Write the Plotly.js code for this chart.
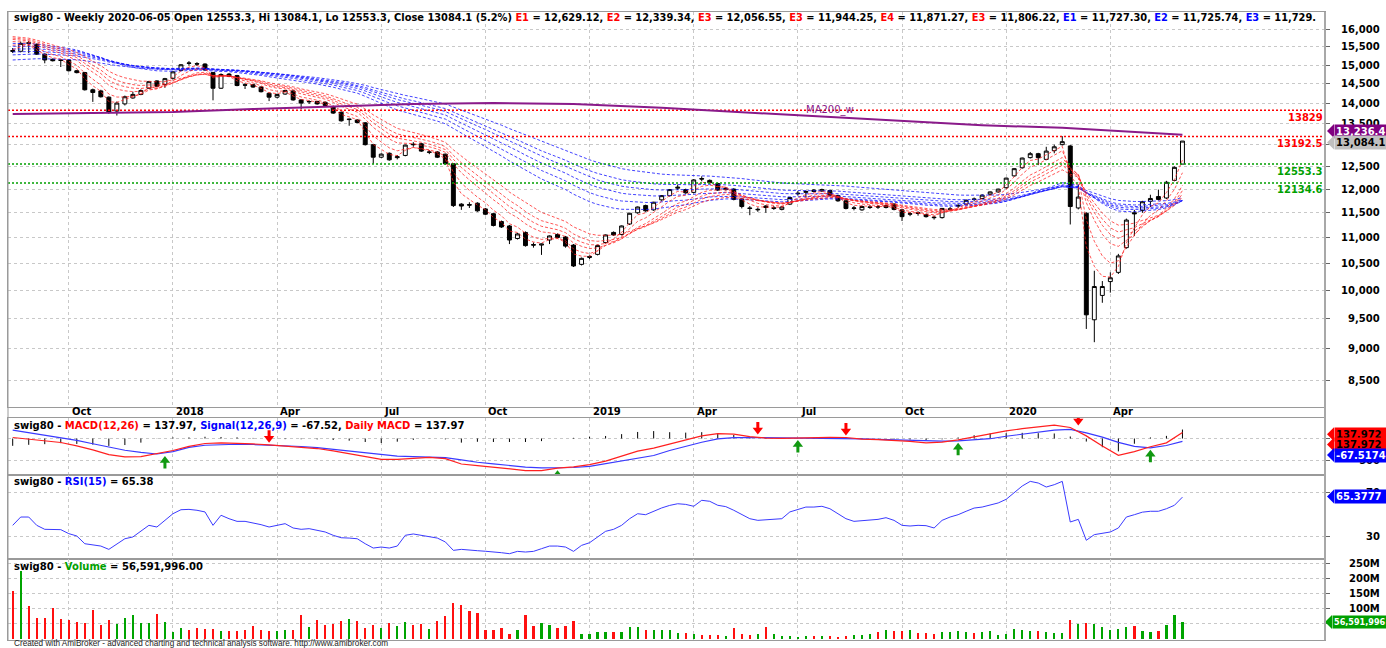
<!DOCTYPE html>
<html><head><meta charset="utf-8">
<script src="https://cdn.plot.ly/plotly-3.0.1.min.js"></script>
<style>html,body{margin:0;padding:0;background:#fff}#chart{width:1386px;height:648px}</style>
</head><body><div id="chart"></div>
<script>
// ---------------- DATA ----------------
const monthIdx = [7, 20, 33, 46, 59, 72, 85, 98, 111, 124, 137];
const monthLabels = ['Oct', '2018', 'Apr', 'Jul', 'Oct', '2019', 'Apr', 'Jul', 'Oct', '2020', 'Apr'];

const openP = [15400,15380,15620,15570,15300,15160,15140,15140,14850,14800,14350,14320,14160,13810,13990,14140,14230,14390,14580,14490,
14650,14860,15060,15040,15030,14800,14390,14760,14720,14480,14480,14420,14260,14160,14240,14320,14090,14040,14050,14030,
13920,13780,13600,13590,13520,13000,12710,12800,12700,12750,13010,13020,12820,12830,12780,12560,11680,11670,11700,11580,
11480,11320,11230,10980,11100,10860,10850,10950,11060,11010,10850,10480,10610,10670,10900,11100,11060,11270,11500,11650,
11560,11770,11860,12020,11990,11930,12230,12190,12120,11990,12000,11790,11600,11560,11640,11590,11570,11680,11900,11930,
11980,11960,11970,11860,11750,11590,11560,11610,11630,11610,11680,11560,11470,11500,11460,11410,11400,11570,11640,11680,
11790,11800,11890,11940,12030,12290,12470,12700,12790,12660,12860,13000,12970,11600,11490,9485,9910,10160,10330,10800,
11500,11550,11740,11840,11810,12190,12553.3];
const highP = [15470,15650,15670,15600,15320,15180,15160,15160,14870,14820,14380,14350,14180,14050,14200,14300,14360,14580,14600,14660,
14840,15030,15110,15080,15050,14820,14780,14790,14740,14520,14500,14440,14280,14250,14350,14340,14110,14080,14070,14050,
13940,13800,13620,13610,13540,13020,12800,12820,12760,13000,13060,13040,12870,12850,12790,12570,11700,11720,11720,11600,
11500,11340,11250,11090,11120,10900,10880,11040,11080,11030,10870,10610,10650,10860,11060,11120,11240,11500,11630,11670,
11730,11870,12000,12100,12010,12220,12280,12210,12140,12040,12020,11810,11640,11610,11660,11640,11640,11830,11960,11970,
12000,12010,11990,11880,11770,11640,11650,11660,11660,11670,11700,11580,11520,11530,11480,11440,11600,11620,11690,11780,
11820,11890,11950,12010,12250,12460,12700,12830,12810,12950,13000,13200,12990,12100,11510,10360,10170,10330,10680,11380,
11560,11750,11880,11990,12180,12500,13084.1];
const lowP = [15330,15350,15330,15280,15050,15100,14950,14830,14780,14330,14040,14150,13740,13700,13950,14120,14210,14370,14420,14400,
14620,14840,14990,14980,14850,14080,14370,14680,14440,14370,14400,14280,14060,14130,14220,14070,13860,13990,13970,13930,
13740,13550,13450,13510,12980,12560,12690,12630,12660,12730,12950,12830,12780,12690,12540,11620,11560,11600,11520,11450,
11220,11190,10870,10960,10820,10800,10660,10870,10980,10800,10430,10460,10580,10650,10880,11030,11040,11250,11480,11520,
11540,11750,11840,11980,11900,11910,12170,12120,11960,11970,11760,11590,11450,11520,11500,11560,11550,11660,11860,11820,
11930,11940,11850,11730,11570,11550,11540,11580,11580,11590,11550,11330,11430,11440,11400,11360,11380,11540,11600,11660,
11740,11780,11870,11920,12010,12270,12450,12680,12530,12640,12800,12980,11260,11570,9330,9110,9780,9960,10300,10780,
11030,11500,11620,11760,11790,12170,12553.3];
const closeP = [15380,15600,15600,15300,15140,15120,15130,14850,14800,14350,14280,14170,13780,14010,14170,14230,14330,14560,14440,14640,
14820,15010,15050,15030,14870,14390,14750,14700,14460,14470,14420,14300,14160,14230,14330,14090,14010,14050,13990,13950,
13760,13570,13610,13530,13000,12710,12780,12650,12720,12990,13000,12850,12830,12710,12560,11650,11640,11660,11540,11470,
11240,11210,10950,11070,10840,10850,10870,11030,11000,10830,10450,10594,10630,10840,11050,11050,11230,11490,11620,11540,
11720,11860,11990,12040,11920,12200,12220,12140,11980,12020,11780,11630,11590,11570,11610,11600,11620,11820,11910,11950,
11950,11990,11870,11750,11590,11600,11630,11620,11620,11650,11570,11420,11480,11490,11420,11400,11590,11580,11650,11760,
11780,11870,11940,12000,12240,12450,12690,12790,12700,12850,12950,13070,11630,11830,9570,10070,10070,10230,10640,11350,
11480,11730,11800,11780,12150,12480,13084.1];

// weekly volume, millions
const volumeM = [158.9,225.6,108.9,70,70,101,66.7,62.2,55.6,53.3,94.4,46.7,62.2,51.1,67.8,77.8,54.4,52.2,82.2,55.6,
22.2,35.6,30,35.6,32.2,32.2,25.6,25.6,25.6,31.1,44.4,30,25.6,25.6,31.1,31.1,77.8,40,62.2,47.8,
50,58.9,65.6,58.9,37.8,46.7,35.6,54.4,42.2,56.7,45.6,48.9,33.3,58.9,75.6,120,111,92.2,86.7,31.1,
31.1,36.7,15.6,28.9,78.9,42.2,52.2,45.6,37.8,42.2,58.9,17.8,17.8,21.5,22,24,24,39,41,30,
29,30,29,21,19,18,14,12,13,11,36,17,14,17,39,17,10,11,8,10,
10,10,10,8,10,14,13,16,23,30,26,28,31,21,19,17,22,24,26,23,
19,22,28,12,17,32,31,28,28,24,19,19,63,50,54,49,39,30,34,41,
44,26,23,26,46,78,56.591996];

// RSI(15) line
const rsiVal = [39.9,47.4,47.4,39.9,36.3,36.3,36,32.4,30.3,23.3,22.4,21.2,18.2,23.3,27.8,29.4,34.5,39.9,38.4,44.4,
50.4,54,54.3,53.5,52,39.9,49,45.9,43.5,43.5,42.3,40.5,38.4,39.9,41.4,37.5,36.3,36.9,35.4,33.9,
30.9,28.7,28.4,27.8,23.3,19.4,20.3,19.4,21.2,30.9,32.1,30.9,29.4,28.4,24.9,17.3,18.2,17.3,17,16.5,
16,15.2,14.3,16.4,15.8,16.4,18.8,21.2,21.2,20.3,16.4,21.8,24.2,29.4,34.5,36.3,39.9,45.9,50.4,49.5,
52.6,55.6,57.9,59.4,58.8,57.1,62.5,61.6,58,56.8,53.5,49.5,45.9,44.4,45,45,45.9,52,54.4,56.4,
56.4,57.1,54.9,50.4,45.9,43.5,44.1,44.4,45.3,46.8,44.4,39.9,39.3,39.9,39.6,37.5,44.4,47.4,49.5,52.6,
55.5,56.4,58,60.1,63.4,69.4,75.4,79.6,78.1,74.5,76.6,79.6,42.9,45.3,26.4,31.5,32.4,33.9,37.5,47.4,
49.5,51.8,52.6,52.6,54.9,58,65.38];

// MACD(12,26) and Signal(12,26,9), read every second bar
const macdIdx = [0,2,4,6,8,10,12,14,16,18,20,22,24,26,28,30,32,34,36,38,40,42,44,46,48,50,52,54,56,58,60,62,64,66,68,70,72,74,
76,78,80,82,84,86,88,90,92,94,96,98,100,102,104,106,108,110,112,114,116,118,120,122,124,126,128,130,132,134,136,138,140,142,144,146];
const macdVal = [23,-10,-50,-92,-170,-260,-370,-420,-415,-350,-275,-180,-115,-100,-105,-125,-145,-175,-200,-230,-285,-350,-420,-478,-478,
-450,-432,-460,-585,-620,-660,-700,-735,-735,-680,-650,-600,-520,-400,-290,-220,-130,-40,60,112,100,45,10,5,15,30,28,23,-15,
-25,-40,-65,-100,-82,-30,40,110,175,225,262,305,253,60,-170,-385,-300,-190,-100,137.97];
const signalVal = [191,135,80,15,-45,-120,-200,-270,-320,-355,-300,-205,-155,-135,-132,-138,-148,-160,-183,-210,-250,-300,-340,-375,-405,
-418,-428,-440,-490,-545,-580,-620,-655,-675,-677,-665,-640,-578,-500,-440,-390,-275,-175,-85,-10,20,22,18,14,10,12,15,2,-8,
-20,-28,-40,-60,-62,-54,-35,-5,52,95,140,190,207,130,30,-90,-180,-214,-160,-67.52];
const buyIdx = [19, 68, 98, 118, 142];
const sellIdx = [32, 93, 104, 133];

// 200-week moving average (sampled along the purple line)
const ma200Idx = [0,10,20,30,40,50,60,70,81,93,102,112,121,131,140,146];
const ma200Val = [13740,13770,13790,13860,13920,13990,14010,13985,13890,13760,13650,13550,13463,13400,13300,13236.4];

// Guppy multiple moving averages: periods and their values at the first bar
const shortPeriods = [3, 5, 8, 10, 12, 15];
const shortStart = [15420, 15550, 15650, 15710, 15750, 15790];
const longPeriods = [30, 35, 40, 45, 50, 60];
const longStart = [15600, 15520, 15440, 15360, 15280, 15140];

const levelsRed = [13829, 13192.5];
const levelsGreen = [12553.3, 12134.6];
const priceTicks = [8500,9000,9500,10000,10500,11000,11500,12000,12500,13000,13500,14000,14500,15000,15500,16000];
const macdTicks = [-500, 0];
const rsiTicks = [30, 70];
const volTicksM = [50, 100, 150, 200, 250];

// ---------------- BUILD ----------------
const W = 1386, H = 648, ML = 8, MR = 61, PW = W - ML - MR;
const px2x = p => (p - ML) / PW;
const py2y = p => (H - p) / H;
const barPx0 = 12.7, barPx = 8.012;
const xr = [(ML - barPx0) / barPx, (W - MR - barPx0) / barPx];

const idx = closeP.map((_, i) => i);
function ema(src, period, start) {
  const a = 2 / (period + 1); let e = start; const out = [];
  for (let i = 0; i < src.length; i++) { if (i > 0) e = e + a * (src[i] - e); out.push(e); }
  return out;
}

const FONT = 'DejaVu Sans, Verdana, sans-serif';
const FONT2 = 'Liberation Sans, Arial, sans-serif';
const traces = [];
longPeriods.forEach((p, k) => traces.push({type:'scatter', mode:'lines', x: idx, y: ema(closeP, p, longStart[k]),
  line:{color:'rgba(20,20,255,0.8)', width:1, dash:'3px,2px'}, xaxis:'x', yaxis:'y', hoverinfo:'skip'}));
shortPeriods.forEach((p, k) => traces.push({type:'scatter', mode:'lines', x: idx, y: ema(closeP, p, shortStart[k]),
  line:{color:'rgba(255,30,30,0.75)', width:1, dash:'3px,2px'}, xaxis:'x', yaxis:'y', hoverinfo:'skip'}));
levelsRed.forEach(v => traces.push({type:'scatter', mode:'lines', x: xr, y:[v, v], line:{color:'#ff0000', width:1.5, dash:'2px,2px'}, xaxis:'x', yaxis:'y', hoverinfo:'skip'}));
levelsGreen.forEach(v => traces.push({type:'scatter', mode:'lines', x: xr, y:[v, v], line:{color:'#00a000', width:1.5, dash:'2px,2px'}, xaxis:'x', yaxis:'y', hoverinfo:'skip'}));
traces.push({type:'scatter', mode:'lines', x: ma200Idx, y: ma200Val, line:{color:'#8a1a8a', width:2}, xaxis:'x', yaxis:'y', hoverinfo:'skip'});
traces.push({type:'candlestick', x: idx, open: openP, high: highP, low: lowP, close: closeP, xaxis:'x', yaxis:'y',
  increasing:{line:{color:'#000', width:1}, fillcolor:'#ffffff'}, decreasing:{line:{color:'#000', width:1}, fillcolor:'#000000'},
  whiskerwidth:0, hoverinfo:'skip'});

// MACD pane
const hx = [], hy = [];
macdIdx.forEach((i, k) => { hx.push(i, i, null); hy.push(0, macdVal[k] - signalVal[k], null); });
traces.push({type:'scatter', mode:'lines', x: hx, y: hy, line:{color:'#000', width:1}, xaxis:'x2', yaxis:'y2', hoverinfo:'skip'});
traces.push({type:'scatter', mode:'lines', x: macdIdx, y: signalVal, line:{color:'#3a3aff', width:1.2}, xaxis:'x2', yaxis:'y2', hoverinfo:'skip'});
traces.push({type:'scatter', mode:'lines', x: macdIdx, y: macdVal, line:{color:'#ff2020', width:1.2}, xaxis:'x2', yaxis:'y2', hoverinfo:'skip'});

// MACD crossover arrows (shaft + head), clipped to the pane
const MACD_PX = 0.0436;            // pixels per MACD unit
const U = px => px / MACD_PX;      // pixels -> MACD units
const nearest = i => macdIdx.reduce((b, v, k) => Math.abs(v - i) < Math.abs(macdIdx[b] - i) ? k : b, 0);
function arrows(list, dir, color) {
  const sx = [], sy = [], mx = [], my = [];
  list.forEach(i => {
    const k = nearest(i);
    const tip = dir > 0 ? Math.min(macdVal[k], signalVal[k]) - U(2) : Math.max(macdVal[k], signalVal[k]) + U(2);
    mx.push(i); my.push(tip - dir * U(4.5));
    sx.push(i, i, null); sy.push(tip - dir * U(6), tip - dir * U(12.5), null);
  });
  traces.push({type:'scatter', mode:'lines', x: sx, y: sy, line:{color, width:3}, xaxis:'x2', yaxis:'y2', hoverinfo:'skip', cliponaxis:true});
  traces.push({type:'scatter', mode:'markers', x: mx, y: my, marker:{symbol: dir > 0 ? 'triangle-up' : 'triangle-down', size:9, color, line:{width:0}},
    xaxis:'x2', yaxis:'y2', hoverinfo:'skip', cliponaxis:true});
}
arrows(buyIdx, 1, '#119911');
arrows(sellIdx, -1, '#ff0000');

// RSI pane
traces.push({type:'scatter', mode:'lines', x: idx, y: rsiVal, line:{color:'#3a3aff', width:1}, xaxis:'x3', yaxis:'y3', hoverinfo:'skip'});

// Volume pane
traces.push({type:'bar', x: idx, y: volumeM.map(v => v * 1e6), width: 0.28,
  marker:{color: idx.map(i => closeP[i] >= openP[i] ? '#00a400' : '#ff1010'), line:{width:0}},
  xaxis:'x4', yaxis:'y4', hoverinfo:'skip'});

const dom = {price:[py2y(406.5), py2y(12)], macd:[py2y(474.7), py2y(417.5)], rsi:[py2y(559.3), py2y(474.7)], vol:[py2y(640), py2y(559.3)]};
const grid = {showgrid:true, gridcolor:'#c8c8c8', griddash:'dot', gridwidth:1};
const xbase = Object.assign({range: xr, tickvals: monthIdx, showticklabels:false, ticks:'', zeroline:false,
  showline:true, linecolor:'#9a9a9a', linewidth:1, mirror:true, fixedrange:true}, grid);
const ybase = Object.assign({side:'right', showticklabels:false, ticks:'outside', ticklen:4, tickcolor:'#666',
  zeroline:false, showline:true, linecolor:'#9a9a9a', linewidth:1, mirror:true, fixedrange:true}, grid);

const pricePxTop = 29.3, pricePxPerLog = 1279.2; // 16,000 sits at y=29.3px
const layout = {
  width: W, height: H, margin:{l:ML, r:MR, t:0, b:0}, paper_bgcolor:'#fff', plot_bgcolor:'#fff', showlegend:false,
  font:{family: FONT, size: 10, color:'#000'},
  xaxis: Object.assign({}, xbase, {anchor:'y', rangeslider:{visible:false}}),
  xaxis2: Object.assign({}, xbase, {anchor:'y2', matches:'x'}),
  xaxis3: Object.assign({}, xbase, {anchor:'y3', matches:'x'}),
  xaxis4: Object.assign({}, xbase, {anchor:'y4', matches:'x'}),
  yaxis: Object.assign({}, ybase, {domain: dom.price, type:'log', tickvals: priceTicks,
    range:[Math.log10(16000) - (406.5 - pricePxTop) / pricePxPerLog, Math.log10(16000) + (pricePxTop - 12) / pricePxPerLog]}),
  yaxis2: Object.assign({}, ybase, {domain: dom.macd, tickvals: macdTicks, range:[-(474.7 - 438.5) / MACD_PX, (438.5 - 417.5) / MACD_PX]}),
  yaxis3: Object.assign({}, ybase, {domain: dom.rsi, tickvals: rsiTicks, range:[30 - (559.3 - 536.3) / 1.1075, 70 + (492 - 474.7) / 1.1075]}),
  yaxis4: Object.assign({}, ybase, {domain: dom.vol, tickvals: volTicksM.map(v => v * 1e6), range:[-(640 - 639) / 0.3027 * 1e6, (250 + (563.3 - 559.3) / 0.3027) * 1e6]}),
  bargap: 0,
  shapes: [], annotations: []
};

const A = layout.annotations, S = layout.shapes;
const BF = {family: FONT, size: 10, color:'#000'};
const red = s => `<span style="color:#ff0000">${s}</span>`;
const blue = s => `<span style="color:#0000ff">${s}</span>`;
const green = s => `<span style="color:#00a000">${s}</span>`;
function title(text, ypx, size) {
  A.push({xref:'paper', yref:'paper', x: px2x(12), y: py2y(ypx), xanchor:'left', yanchor:'middle', showarrow:false,
    text: '<b>' + text + '</b>', font: {family: FONT, size: size || 10, color:'#000'}});
}
title('swig80 - Weekly 2020-06-05 Open 12553.3, Hi 13084.1, Lo 12553.3, Close 13084.1 (5.2%) ' +
  red('E1') + ' = 12,629.12, ' + red('E2') + ' = 12,339.34, ' + red('E3') + ' = 12,056.55, ' + red('E3') + ' = 11,944.25, ' +
  red('E4') + ' = 11,871.27, ' + red('E3') + ' = 11,806.22, ' + blue('E1') + ' = 11,727.30, ' + blue('E2') + ' = 11,725.74, ' +
  blue('E3') + ' = 11,729.', 17, 9.85);
title('swig80 - ' + red('MACD(12,26)') + ' = 137.97, ' + blue('Signal(12,26,9)') + ' = -67.52, ' + red('Daily MACD') + ' = 137.97', 425);
title('swig80 - ' + blue('RSI(15)') + ' = 65.38', 481.3);
title('swig80 - ' + green('Volume') + ' = 56,591,996.00', 566);
A.push({xref:'paper', yref:'paper', x: px2x(12), y: py2y(643.5), xanchor:'left', yanchor:'middle', showarrow:false,
  text:'Created with AmiBroker - advanced charting and technical analysis software. http://www.amibroker.com',
  font:{family: FONT2, size: 8.2, color:'#222'}});

// month labels in the strip between price and MACD panes
monthIdx.forEach((i, k) => A.push({xref:'x', x: i, xshift: 1, xanchor:'left', yref:'paper', y: py2y(411.8), yanchor:'middle',
  showarrow:false, text:'<b>' + monthLabels[k] + '</b>', font: BF}));

// right-side axis labels (right aligned); labels fully covered by value boxes are left out
const rx = px2x(1382);
const fmt = v => v.toLocaleString('en-US');
const covered = {price:[13000], macd:[0], vol:[50]};
priceTicks.filter(v => !covered.price.includes(v)).forEach(v => A.push({xref:'paper', x: rx, xanchor:'right', yref:'y', y: Math.log10(v), yanchor:'middle', showarrow:false,
  text:'<b>' + fmt(v) + '</b>', font: BF}));
macdTicks.filter(v => !covered.macd.includes(v)).forEach(v => A.push({xref:'paper', x: rx, xanchor:'right', yref:'y2', y: v, yanchor:'middle', showarrow:false,
  text:'<b>' + v + '</b>', font: BF}));
rsiTicks.forEach(v => A.push({xref:'paper', x: rx, xanchor:'right', yref:'y3', y: v, yanchor:'middle', showarrow:false,
  text:'<b>' + v + '</b>', font: BF}));
volTicksM.filter(v => !covered.vol.includes(v)).forEach(v => A.push({xref:'paper', x: rx, xanchor:'right', yref:'y4', y: v * 1e6, yanchor:'middle', showarrow:false,
  text:'<b>' + v + 'M</b>', font: BF}));

// level labels
levelsRed.forEach(v => A.push({xref:'paper', x: 1, xanchor:'right', yref:'y', y: Math.log10(v), yshift: -7, yanchor:'middle', showarrow:false,
  text:'<b>' + v + '</b>', font:{family: FONT, size: 10, color:'#ff0000'}}));
levelsGreen.forEach(v => A.push({xref:'paper', x: 1, xanchor:'right', yref:'y', y: Math.log10(v), yshift: -7, yanchor:'middle', showarrow:false,
  text:'<b>' + v + '</b>', font:{family: FONT, size: 10, color:'#00a000'}}));

A.push({xref:'x', x: 102, xanchor:'center', yref:'paper', y: py2y(109.5), yanchor:'middle', showarrow:false,
  text:'MA200_w', font:{family: FONT, size: 10, color:'#8a1a8a'}});

// value boxes at the right edge
function box(text, ypx, bg, fg, size, left) {
  const lx = left || 1334;
  A.push({xref:'paper', yref:'paper', x: px2x(lx), y: py2y(ypx), xanchor:'left', yanchor:'middle', showarrow:false,
    text:'<b>' + text + '</b>', bgcolor: bg, borderpad: 1, width: 1384 - lx, align:'left', font:{family: FONT, size: size || 10, color: fg}});
  S.push({type:'path', xref:'paper', yref:'paper', fillcolor: bg, line:{width:0},
    path:`M ${px2x(lx)} ${py2y(ypx - 7)} L ${px2x(lx - 7)} ${py2y(ypx)} L ${px2x(lx)} ${py2y(ypx + 7)} Z`});
}
box('13,236.4', 131, '#800080', '#fff');
box('13,084.1', 142.5, '#c0c0c0', '#000');
box('137.972', 434.3, '#ff0000', '#000');
box('137.972', 444.5, '#ff0000', '#000');
box('-67.5174', 455, '#0000ff', '#fff');
box('65.3777', 496.5, '#0000ff', '#fff');
box('56,591,996', 622, '#00a000', '#fff', 8.1, 1332);

// pane frame lines
S.push({type:'line', xref:'paper', yref:'paper', x0:1, x1:1, y0: py2y(640), y1: py2y(12), line:{color:'#a8a8a8', width:2}});
S.push({type:'line', xref:'paper', yref:'paper', x0:0, x1:0, y0: py2y(640), y1: py2y(12), line:{color:'#9a9a9a', width:1}});

Plotly.newPlot('chart', traces, layout, {staticPlot:true, displayModeBar:false});
</script></body></html>
